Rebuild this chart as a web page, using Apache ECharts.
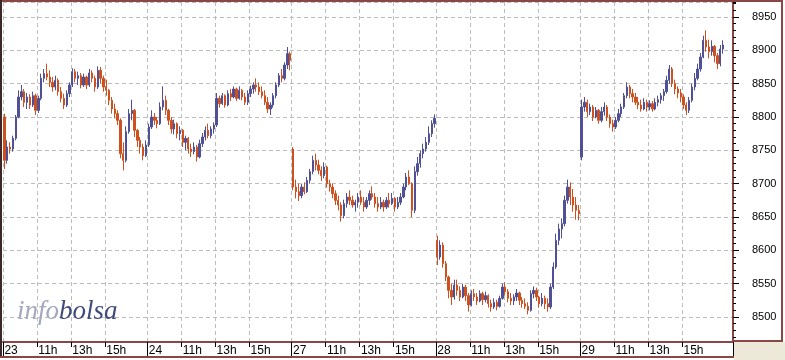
<!DOCTYPE html>
<html><head><meta charset="utf-8">
<script src="https://cdn.jsdelivr.net/npm/echarts@6/dist/echarts.min.js"></script>
<style>html,body{margin:0;padding:0;background:#fff}#c{width:785px;height:360px}</style>
</head><body><div id="c"></div>
<script>
// trading days shown and the intraday hour labels
const days = ['23', '24', '27', '28', '29'];
const hourLabels = ['11h', '13h', '15h'];
const yMin = 8462.5, yMax = 8972.5;

// 10-minute bars per day, [open, close, low, high]
const d23 = [
[8800,8735,8722,8805],[8735,8755,8730,8765],[8755,8752,8745,8762],[8752,8768,8748,8772],[8768,8800,8765,8803],
[8800,8830,8798,8840],[8830,8838,8825,8848],[8838,8822,8815,8842],[8822,8830,8812,8836],[8830,8818,8812,8834],
[8818,8832,8815,8838],[8832,8810,8803,8835],[8810,8828,8806,8832],[8828,8858,8825,8865],[8858,8865,8852,8872],
[8865,8860,8855,8880],[8860,8852,8845,8870],[8852,8845,8838,8860],[8845,8855,8840,8862],[8855,8838,8832,8858],
[8838,8828,8822,8845],[8828,8818,8812,8835],[8818,8835,8815,8840],[8835,8848,8830,8852],[8848,8868,8845,8873],
[8868,8858,8852,8872],[8858,8862,8848,8868],[8862,8848,8843,8866],[8848,8860,8845,8865],[8860,8848,8842,8862],
[8848,8866,8845,8872],[8866,8858,8852,8870],[8858,8845,8838,8862],[8845,8870,8842,8876],[8870,8858,8850,8875],
[8858,8845,8838,8862],[8845,8840,8832,8856],[8840,8825,8818,8842],[8825,8812,8805,8830],[8812,8805,8798,8820],
[8805,8795,8788,8810],[8795,8745,8738,8798],[8745,8735,8720,8762],[8735,8778,8732,8786],[8778,8805,8775,8812],
[8805,8810,8795,8826],[8810,8780,8770,8812],[8780,8765,8755,8782],[8765,8755,8745,8770],[8755,8742,8735,8760],
[8742,8758,8740,8765]];
const d24 = [
[8758,8785,8755,8790],[8785,8800,8782,8810],[8800,8795,8788,8806],[8795,8790,8783,8800],[8790,8815,8788,8822],
[8815,8825,8810,8846],[8825,8810,8803,8832],[8810,8795,8788,8812],[8795,8782,8775,8800],[8782,8790,8774,8796],
[8790,8775,8768,8792],[8775,8780,8765,8786],[8780,8762,8755,8782],[8762,8768,8750,8772],[8768,8752,8745,8770],
[8752,8748,8740,8760],[8748,8755,8744,8762],[8755,8740,8733,8758],[8740,8760,8738,8766],[8760,8770,8755,8776],
[8770,8780,8765,8786],[8780,8772,8768,8790],[8772,8782,8768,8786],[8782,8788,8775,8792],[8788,8828,8785,8836],
[8828,8820,8814,8832],[8820,8832,8818,8836],[8832,8818,8814,8834],[8818,8835,8816,8840],[8835,8830,8824,8842],
[8830,8842,8828,8846],[8842,8828,8824,8844],[8828,8840,8826,8846],[8840,8830,8825,8842],[8830,8822,8818,8836],
[8822,8835,8818,8840],[8835,8842,8830,8847],[8842,8848,8835,8852],[8848,8845,8838,8858],[8845,8838,8833,8852],
[8838,8832,8828,8846],[8832,8822,8818,8840],[8822,8812,8806,8830],[8812,8818,8803,8822],[8818,8832,8814,8836],
[8832,8848,8828,8852],[8848,8862,8845,8866],[8862,8858,8852,8872],[8858,8878,8855,8882],[8878,8895,8872,8905],
[8895,8885,8870,8898]];
const d27 = [
[8752,8695,8690,8755],[8695,8688,8678,8706],[8688,8682,8674,8700],[8682,8695,8678,8700],[8695,8688,8684,8702],
[8688,8705,8686,8710],[8705,8718,8700,8722],[8718,8735,8714,8742],[8735,8728,8720,8745],[8728,8720,8714,8736],
[8720,8712,8704,8726],[8712,8725,8708,8732],[8725,8700,8694,8727],[8700,8695,8688,8706],[8695,8685,8678,8700],
[8685,8675,8668,8690],[8675,8668,8660,8682],[8668,8652,8643,8672],[8652,8670,8648,8676],[8670,8680,8664,8686],
[8680,8675,8668,8690],[8675,8668,8664,8682],[8668,8672,8658,8676],[8672,8680,8664,8686],[8680,8672,8668,8690],
[8672,8665,8658,8680],[8665,8675,8662,8680],[8675,8685,8668,8690],[8685,8680,8676,8696],[8680,8670,8664,8686],
[8670,8665,8658,8680],[8665,8672,8662,8680],[8672,8665,8658,8676],[8665,8675,8662,8680],[8675,8670,8664,8686],
[8670,8678,8668,8686],[8678,8665,8658,8680],[8665,8672,8662,8680],[8672,8680,8668,8686],[8680,8695,8678,8700],
[8695,8710,8690,8716],[8710,8700,8698,8720],[8700,8660,8650,8702],[8660,8718,8656,8726],[8718,8730,8712,8740],
[8730,8745,8724,8750],[8745,8752,8738,8760],[8752,8762,8748,8770],[8762,8775,8758,8786],[8775,8790,8770,8795],
[8790,8798,8784,8804]];
const d28 = [
[8615,8590,8578,8622],[8590,8608,8586,8615],[8608,8580,8574,8612],[8580,8560,8554,8584],[8560,8540,8528,8562],
[8540,8530,8518,8550],[8530,8548,8526,8556],[8548,8540,8532,8556],[8540,8530,8524,8546],[8530,8545,8528,8550],
[8545,8532,8524,8548],[8532,8518,8508,8536],[8518,8535,8516,8540],[8535,8530,8524,8542],[8530,8524,8518,8536],
[8524,8535,8522,8540],[8535,8526,8518,8538],[8526,8532,8522,8538],[8532,8520,8514,8534],[8520,8515,8508,8526],
[8515,8522,8512,8528],[8522,8516,8510,8526],[8516,8528,8514,8532],[8528,8545,8526,8550],[8545,8538,8532,8552],
[8538,8528,8522,8542],[8528,8524,8518,8536],[8524,8530,8518,8534],[8530,8536,8524,8542],[8536,8525,8518,8538],
[8525,8520,8514,8530],[8520,8516,8512,8528],[8516,8510,8504,8522],[8510,8535,8508,8540],[8535,8540,8528,8546],
[8540,8530,8524,8544],[8530,8520,8514,8532],[8520,8528,8516,8536],[8528,8520,8512,8532],[8520,8515,8508,8528],
[8515,8545,8512,8550],[8545,8575,8542,8582],[8575,8615,8572,8625],[8615,8632,8608,8640],[8632,8640,8618,8648],
[8640,8675,8636,8682],[8675,8695,8670,8706],[8695,8680,8668,8702],[8680,8668,8658,8692],[8668,8660,8646,8680],
[8660,8655,8645,8668]];
const d29 = [
[8740,8815,8735,8826],[8815,8822,8808,8830],[8822,8808,8800,8826],[8808,8815,8803,8820],[8815,8800,8794,8818],
[8800,8810,8798,8815],[8810,8795,8790,8812],[8795,8808,8792,8815],[8808,8815,8802,8822],[8815,8800,8794,8818],
[8800,8790,8784,8804],[8790,8785,8778,8796],[8785,8795,8782,8800],[8795,8805,8792,8812],[8805,8815,8800,8820],
[8815,8832,8812,8836],[8832,8845,8828,8852],[8845,8835,8828,8848],[8835,8830,8822,8842],[8830,8822,8818,8836],
[8822,8818,8812,8830],[8818,8812,8808,8826],[8812,8822,8810,8828],[8822,8815,8808,8826],[8815,8820,8810,8825],
[8820,8812,8808,8824],[8812,8822,8810,8828],[8822,8826,8816,8832],[8826,8832,8820,8836],[8832,8838,8824,8842],
[8838,8855,8835,8862],[8855,8872,8850,8878],[8872,8850,8845,8875],[8850,8842,8834,8856],[8842,8836,8828,8846],
[8836,8830,8822,8842],[8830,8818,8812,8834],[8818,8810,8803,8822],[8810,8825,8806,8830],[8825,8845,8822,8850],
[8845,8858,8840,8866],[8858,8872,8855,8880],[8872,8890,8868,8896],[8890,8915,8888,8922],[8915,8905,8898,8930],
[8905,8898,8888,8916],[8898,8906,8892,8915],[8906,8892,8882,8908],[8892,8880,8872,8896],[8880,8902,8876,8908],
[8902,8908,8895,8915]];

const dayData = [d23, d24, d27, d28, d29];
const sessionStart = 9 * 60, barMinutes = 10, barsPerDay = 51, trailingSlots = 3;
const pad2 = n => String(n).padStart(2, '0');
const categories = [];
const ohlc = [];
days.forEach((d, k) => {
  for (let s = 0; s < barsPerDay; s++) {
    const m = sessionStart + s * barMinutes;
    categories.push(d + ' ' + pad2(Math.floor(m / 60)) + ':' + pad2(m % 60));
    ohlc.push(dayData[k][s] ? dayData[k][s] : '-');
  }
});
for (let i = 0; i < trailingSlots; i++) { categories.push(''); ohlc.push('-'); }

const hourKeys = hourLabels.map(h => ' ' + pad2(parseInt(h, 10)) + ':00');
const isHour = v => hourKeys.some(k => v.endsWith(k));
const isDay = v => v.endsWith(' ' + pad2(sessionStart / 60) + ':00');

const brown = '#8b4646';
const grid = '#bcbcbc';
const chart = echarts.init(document.getElementById('c'), null, {renderer: 'canvas'});
chart.setOption({
  animation: false,
  backgroundColor: '#fff',
  title: {
    text: '{a|info}{b|bolsa}', left: 17, top: 297, padding: 0,
    textStyle: {
      fontWeight: 'normal',
      rich: {
        a: {fontFamily: 'Liberation Serif', fontStyle: 'italic', fontWeight: 'normal', fontSize: 27, color: '#a3a7bf', lineHeight: 30},
        b: {fontFamily: 'Liberation Serif', fontStyle: 'italic', fontWeight: 'normal', fontSize: 27, color: '#404b7c', lineHeight: 30}
      }
    }
  },
  grid: {left: 3, right: 52, top: 2, bottom: 18, show: false},
  xAxis: [{
    type: 'category', data: categories, boundaryGap: true,
    axisLine: {show: true, lineStyle: {color: brown, width: 2}},
    axisTick: {show: true, interval: (i, v) => isHour(v), length: 5, lineStyle: {color: '#000', width: 1}},
    axisLabel: {
      interval: (i, v) => isHour(v),
      formatter: v => { const j = hourKeys.findIndex(k => v.endsWith(k)); return j >= 0 ? hourLabels[j] : ''; },
      align: 'left', fontSize: 12, fontFamily: 'Liberation Sans', color: '#000', margin: 2, lineHeight: 13
    },
    splitLine: {show: true, interval: (i, v) => isHour(v) || isDay(v), lineStyle: {color: grid, type: [4, 3], width: 1}}
  }, {
    type: 'category', data: categories, boundaryGap: true, position: 'bottom',
    axisLine: {show: false},
    axisTick: {show: true, interval: (i, v) => isDay(v), length: 15, lineStyle: {color: '#000', width: 1}},
    axisLabel: {
      interval: (i, v) => isDay(v),
      formatter: v => v.split(' ')[0],
      align: 'left', fontSize: 12, fontFamily: 'Liberation Sans', color: '#000', margin: 2, lineHeight: 13
    },
    splitLine: {show: false}
  }],
  yAxis: [{
    type: 'value', position: 'right', min: yMin, max: yMax, splitNumber: 10,
    axisLine: {show: true, lineStyle: {color: brown, width: 2}},
    axisTick: {show: true, length: 6, lineStyle: {color: '#000'}},
    axisLabel: {color: '#000', fontSize: 11, fontFamily: 'Liberation Sans', margin: 19,
      formatter: v => (v % 50 === 0 ? String(v) : ''), showMinLabel: false, showMaxLabel: false},
    splitLine: {show: true, lineStyle: {color: grid, type: [4, 3], width: 1}}
  }, {
    type: 'value', position: 'right', min: yMin, max: yMax, splitNumber: 51,
    axisLine: {show: false},
    axisTick: {show: true, length: 3, lineStyle: {color: '#000'}},
    axisLabel: {show: false},
    splitLine: {show: false}
  }],
  series: [{
    type: 'candlestick', data: ohlc, xAxisIndex: 0, yAxisIndex: 0, barWidth: 1.8,
    itemStyle: {color: '#505096', color0: '#cd501e', borderColor: '#505096', borderColor0: '#cd501e', borderWidth: 1}
  }],
  graphic: [
    {type: 'rect', shape: {x: 734, y: 342, width: 51, height: 18}, style: {fill: '#ece9d8'}, z: 50},
    {type: 'line', shape: {x1: 0, y1: 1, x2: 783, y2: 1}, style: {stroke: brown, lineWidth: 2}, z: 100},
    {type: 'line', shape: {x1: 1, y1: 0, x2: 1, y2: 358}, style: {stroke: '#3c2828', lineWidth: 2}, z: 100},
    {type: 'line', shape: {x1: 782, y1: 0, x2: 782, y2: 342}, style: {stroke: brown, lineWidth: 2}, z: 100},
    {type: 'line', shape: {x1: 733, y1: 341, x2: 783, y2: 341}, style: {stroke: brown, lineWidth: 2}, z: 100},
    {type: 'line', shape: {x1: 0, y1: 357, x2: 734, y2: 357}, style: {stroke: brown, lineWidth: 2}, z: 100}
  ]
});
</script></body></html>
